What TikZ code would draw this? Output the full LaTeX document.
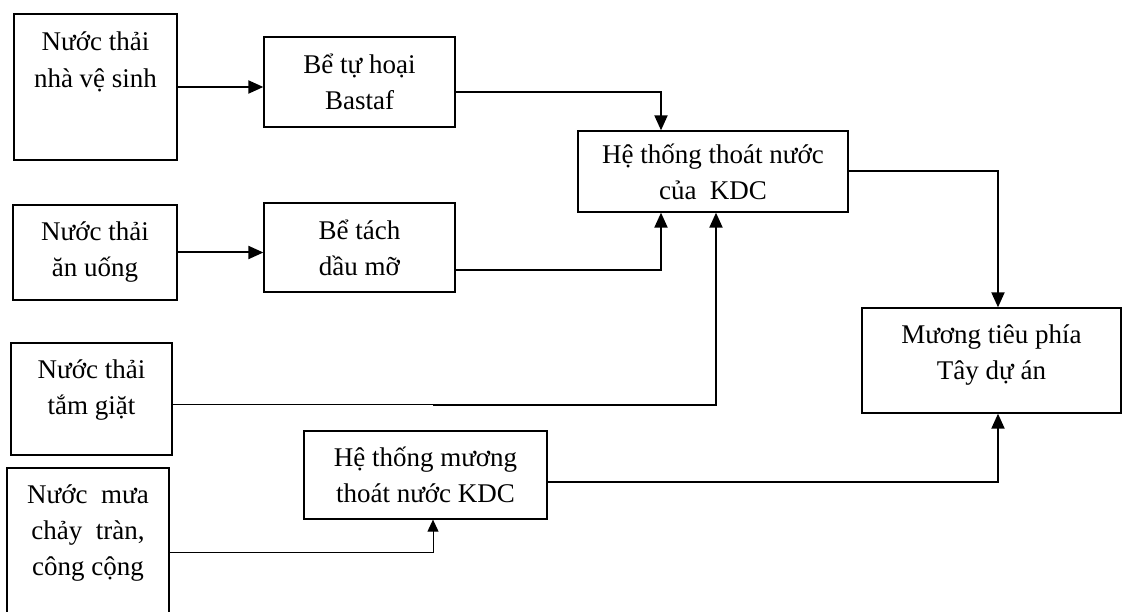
\documentclass[tikz,border=0pt]{standalone}
\usepackage{fontspec}
\setmainfont{Liberation Serif}
\usetikzlibrary{arrows.meta}

\begin{document}
\begin{tikzpicture}[x=1pt, y=-1pt,
		box/.style={draw, line width=1.3pt, inner sep=0pt},
		txt/.style={align=center, font=\fontsize{27}{36}\selectfont},
		flow/.style={line width=2pt, -{Triangle[length=15pt, width=13pt]}}]
		\useasboundingbox (0,0) rectangle (1128,612);
		\node[box, minimum width=163pt, minimum height=146pt] (vs) at (95.5,87) {};
		\node[txt, font=\fontsize{27}{37}\selectfont] at (95.5,62) {Nước thải\\nhà vệ sinh};
		\node[box, txt, minimum width=191pt, minimum height=90pt] (bt) at (359.5,82) {Bể tự hoại\\Bastaf};
		\node[box, txt, minimum width=270pt, minimum height=81pt] (ht) at (713,171.5) {Hệ thống thoát nước\\của~ KDC};
		\node[box, txt, minimum width=164pt, minimum height=95pt] (au) at (95,252.5) {Nước thải\\ăn uống};
		\node[box, txt, minimum width=191pt, minimum height=89pt] (dm) at (359.5,247.5) {Bể tách\\dầu mỡ};
		\node[box, minimum width=259pt, minimum height=105pt] (mt) at (991.5,360.5) {};
		\node[txt] at (991.5,355) {Mương tiêu phía\\Tây dự án};
		\node[box, minimum width=161pt, minimum height=112pt] (tg) at (91.5,399) {};
		\node[txt] at (91.5,390) {Nước thải\\tắm giặt};
		\node[box, txt, minimum width=243pt, minimum height=88pt] (hm) at (425.5,475) {Hệ thống mương\\thoát nước KDC};
		\node[box, minimum width=162pt, minimum height=180pt] (nm) at (88,558) {};
		\node[txt] at (88,533) {Nước~ mưa\\chảy~ tràn,\\công cộng};
%		connectors
		\draw[flow] (vs.east) -- (vs.east -| bt.west);
		\draw[flow] (au.east) -- (au.east -| dm.west);
		\draw[flow] ([yshift=-10pt]bt.east) -| ([xshift=-52pt]ht.north);
		\draw[flow] ([yshift=-22.5pt]dm.east) -| ([xshift=-52pt]ht.south);
		\coordinate (j) at (433,405);
		\draw[line width=1pt] ([yshift=-6pt]tg.east) -- (j);
		\draw[flow] (j) -| ([xshift=3pt]ht.south);
		\draw[flow] (ht.east) -| ([xshift=6.5pt]mt.north);
		\draw[flow] ([yshift=-7pt]hm.east) -| ([xshift=6.5pt]mt.south);
		\draw[flow, line width=1pt, -{Triangle[length=12pt, width=11pt]}] ([yshift=6pt]nm.east) -| ([xshift=7.5pt]hm.south);
	\end{tikzpicture}
\end{document}
